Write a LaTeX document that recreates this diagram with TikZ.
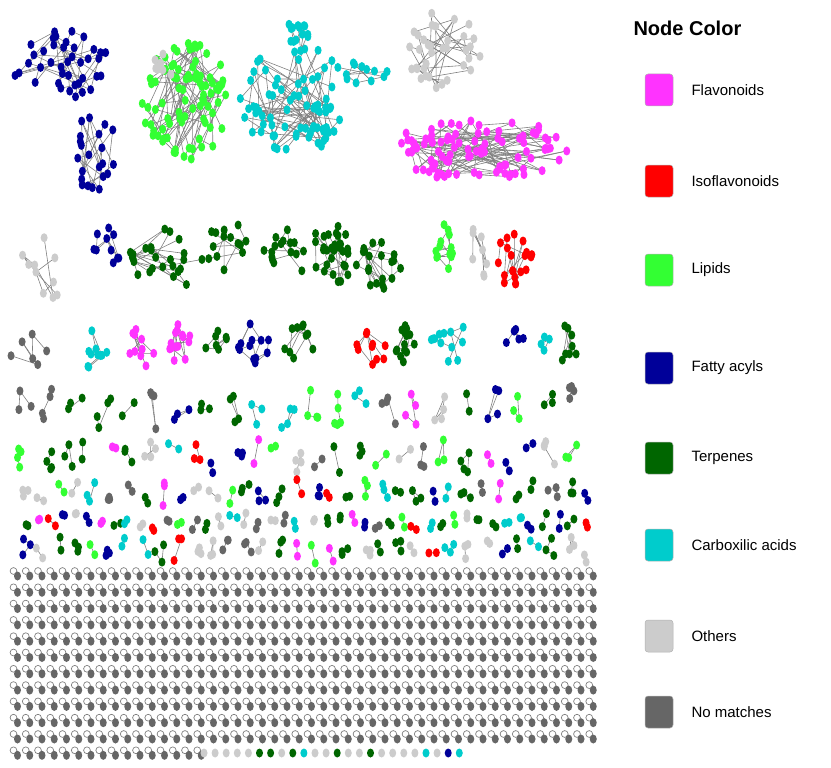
\documentclass[tikz,border=0pt]{standalone}
\usepackage{fontspec}
\setmainfont{Liberation Sans}
\usetikzlibrary{shapes.geometric}
\definecolor{flav}{HTML}{FF33FF}
\definecolor{iso}{HTML}{FF0000}
\definecolor{lip}{HTML}{33FF33}
\definecolor{fat}{HTML}{000099}
\definecolor{terp}{HTML}{006600}
\definecolor{carb}{HTML}{00CCCC}
\definecolor{oth}{HTML}{CCCCCC}
\definecolor{nom}{HTML}{666666}
\tikzset{nd/.style={ellipse,minimum width=7pt,minimum height=9pt,inner sep=0pt},
 edge/.style={draw=gray,line width=0.6pt},
 sw/.style={rectangle,rounded corners=3pt,minimum width=28pt,minimum height=32pt,draw=gray!60,line width=0.5pt},
 lab/.style={anchor=west,font=\fontsize{15}{17}\selectfont}}
\newcommand\clus[7]{%
 \foreach \i in {1,...,#6}{\pgfmathsetmacro\rr{sqrt(rnd)}\pgfmathsetmacro\aa{360*rnd}\pgfmathsetmacro\ax{#2+#4*\rr*cos(\aa)}\pgfmathsetmacro\ay{#3+#5*\rr*sin(\aa)}\coordinate (#1\i) at (\ax,\ay);}
 \foreach \i in {2,...,#6}{\pgfmathtruncatemacro\j{random(max(1,\i-3),\i-1)}\draw[edge] (#1\i) -- (#1\j);}
 \foreach \i in {1,...,#6}{\node[nd,fill=#7] at (#1\i) {};}}
\pgfmathdeclarerandomlist{cols}{{terp}{terp}{terp}{oth}{oth}{fat}{carb}{carb}{lip}{flav}{nom}{iso}}
\begin{document}
\begin{tikzpicture}[x=1pt,y=-1pt]
\useasboundingbox (0,0) rectangle (831,768);
\pgfmathsetseed{7}
% big clusters
\clus{fa}{60}{65}{50}{35}{40}{fat}
\clus{fb}{95}{160}{25}{50}{22}{fat}
\clus{la}{185}{100}{45}{60}{90}{lip}
\clus{lg}{165}{65}{12}{12}{8}{oth}
\clus{ca}{295}{100}{55}{55}{75}{carb}
\clus{cb}{295}{35}{14}{25}{15}{carb}
\clus{cc}{360}{75}{28}{14}{12}{carb}
\clus{oa}{440}{50}{42}{38}{35}{oth}
\clus{fl}{480}{150}{88}{32}{100}{flav}
% row 2
\clus{r2a}{40}{270}{25}{42}{10}{oth}
\clus{r2b}{105}{255}{15}{32}{10}{fat}
\clus{r2c}{165}{260}{38}{32}{25}{terp}
\clus{r2d}{225}{245}{22}{25}{14}{terp}
\clus{r2e}{285}{255}{22}{32}{16}{terp}
\clus{r2f}{330}{255}{24}{32}{30}{terp}
\clus{r2g}{380}{262}{24}{27}{20}{terp}
\clus{r2h}{445}{245}{12}{28}{14}{lip}
\clus{r2i}{478}{255}{12}{30}{8}{oth}
\clus{r2j}{515}{260}{20}{30}{20}{iso}
% row 3
\clus{r3a}{35}{355}{24}{26}{6}{nom}
\clus{r3b}{92}{347}{16}{22}{10}{carb}
\clus{r3c}{140}{348}{20}{20}{10}{flav}
\clus{r3d}{180}{345}{16}{22}{14}{flav}
\clus{r3e}{217}{345}{13}{22}{7}{terp}
\clus{r3f}{255}{345}{20}{22}{12}{fat}
\clus{r3g}{298}{342}{16}{20}{10}{terp}
\clus{r3h}{365}{350}{22}{22}{10}{iso}
\clus{r3i}{405}{345}{13}{22}{14}{terp}
\clus{r3j}{452}{345}{27}{20}{12}{carb}
\clus{r3k}{515}{345}{13}{16}{5}{fat}
\clus{r3l}{545}{345}{6}{16}{4}{carb}
\clus{r3m}{567}{345}{11}{20}{8}{terp}
% small components rows
\foreach \yy/\nn/\sx in {408/5/26, 455/4/21, 493/3/17, 522/2/13, 550/3/17}{
 \pgfmathtruncatemacro\xs{25+\sx}
 \foreach \xx in {25,\xs,...,590}{
  \pgfmathrandomitem\cc{cols}
  \pgfmathtruncatemacro\k{random(2,\nn)}
  \pgfmathsetmacro\rx{\sx/2.6}
  \pgfmathsetmacro\ry{\nn*4.5}
  \clus{s\yy x\xx}{\xx}{\yy}{\rx}{\ry}{\k}{\cc}}}
% grid of self loops
\foreach \r in {0,...,11}{
 \pgfmathsetmacro\gy{574+\r*16.3}
 \pgfmathtruncatemacro\cmax{\r==11 ? 15 : 47}
 \foreach \c in {0,...,\cmax}{
  \pgfmathsetmacro\gx{17+\c*12.25}
  \draw[gray,line width=0.7pt] (\gx-3.5,\gy-3) circle[radius=3.4];
  \node[nd,fill=nom] at (\gx+0.5,\gy+2) {};}}
\foreach \c/\cc in {0/oth,1/oth,2/oth,3/oth,4/oth,5/terp,6/terp,7/oth,8/terp,9/carb,10/oth,11/oth,12/terp,13/oth,14/oth,15/terp,16/oth,17/oth,18/oth,19/oth,20/carb,21/oth,22/fat,23/carb}{
 \node[nd,fill=\cc] at (204+\c*11.1,753) {};}
% legend
\node[anchor=west,font=\bfseries\fontsize{20}{22}\selectfont] (title) at (630,28) {Node Color};
\foreach \y/\cc/\t [count=\i] in {90/flav/Flavonoids,181/iso/Isoflavonoids,270/lip/Lipids,368/fat/Fatty acyls,458/terp/Terpenes,545/carb/Carboxilic acids,636/oth/Others,712/nom/No matches}{
 \node[sw,fill=\cc] (s\i) at (659,\y) {};
 \node[lab] (t\i) at (688,\y) {\t};}
\end{tikzpicture}
\end{document}
